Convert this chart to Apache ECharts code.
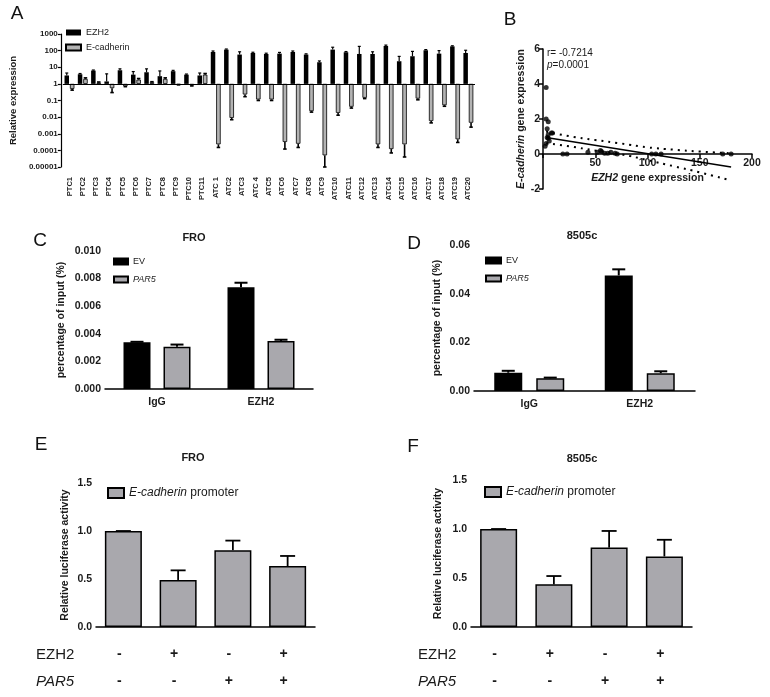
<!DOCTYPE html>
<html><head><meta charset="utf-8">
<script src="https://cdn.jsdelivr.net/npm/echarts@6/dist/echarts.min.js"></script>
<style>html,body{margin:0;padding:0;background:#fff}#c{width:770px;height:697px}</style>
</head><body><div id="c"></div>
<script>
// ---------- Panel A data ----------
const aCategories = ['PTC1','PTC2','PTC3','PTC4','PTC5','PTC6','PTC7','PTC8','PTC9','PTC10','PTC11',
  'ATC 1','ATC2','ATC3','ATC 4','ATC5','ATC6','ATC7','ATC8','ATC9','ATC10','ATC11','ATC12','ATC13','ATC14','ATC15','ATC16','ATC17','ATC18','ATC19','ATC20'];
const aEzh2 = [3.2,3.8,6.3,1.4,6.6,3.6,5,2.9,5.8,3.6,3.2,
  83,115,58,72,63,66,83,58,20,115,80,63,63,190,23,46,105,66,180,72];
const aEzh2Tip = [4.5,4.2,6.8,4,8,5.5,8,6,6.5,3.9,4.5,
  95,125,85,80,70,78,95,64,24,160,88,180,85,215,45,90,115,100,195,105];
const aEcad = [0.5,2,1.2,0.55,0.72,1.8,1.25,2,0.9,0.8,3.6,
  0.00023,0.009,0.23,0.115,0.115,0.00032,0.00025,0.023,0.00005,0.018,0.042,0.145,0.00023,0.00012,0.00023,0.13,0.0058,0.052,0.00046,0.0046];
const aEcadTip = [0.42,2.3,1.3,0.3,0.68,2.1,1.35,2.3,0.87,0.75,4.2,
  0.00015,0.007,0.17,0.1,0.1,0.00012,0.00015,0.02,0.00001,0.013,0.035,0.13,0.00015,0.00007,0.00004,0.11,0.0045,0.045,0.0003,0.0025];
const aTickLabels = ['0.00001','0.0001','0.001','0.01','0.1','1','10','100','1000'];

// ---------- Panel B data ----------
const bX = [3,3,5,4,5,8,6,3,2,5,9,4,19,23,43,52,55,56,59,62,65,69,71,104,108,113,172,180];
const bY = [3.8,2.0,1.85,1.45,1.1,1.2,0.75,0.6,0.45,0.9,1.2,0.95,0,0,0.1,0.1,0.2,0.15,0.05,0.05,0.1,0.05,0,0,0,0,0,0];
const bFitX = [3,180];
const bFitY = [0.94,-0.74];
const bBandX = [3,25,50,75,100,125,150,180];
const bBandUpper = [1.28,1.02,0.8,0.6,0.38,0.25,0.14,0.04];
const bBandLower = [0.62,0.44,0.2,-0.02,-0.35,-0.7,-1.05,-1.52];

// ---------- Panel C / D data ----------
const chipCategories = ['IgG','EZH2'];
const cEV = [0.00338,0.00737], cEVTip = [0.00342,0.0077];
const cPAR5 = [0.00307,0.00348], cPAR5Tip = [0.00322,0.00357];
const dEV = [0.0075,0.0475], dEVTip = [0.0083,0.050];
const dPAR5 = [0.0052,0.0073], dPAR5Tip = [0.0055,0.0081];

// ---------- Panel E / F data ----------
const lucConditions = ['control','EZH2','PAR5','EZH2+PAR5'];
const ezh2Signs = ['-','+','-','+'];
const par5Signs = ['-','-','+','+'];
const eLuc = [1.0,0.49,0.80,0.635], eLucTip = [1.0,0.59,0.90,0.74];
const fLuc = [1.0,0.435,0.81,0.72], fLucTip = [1.0,0.52,0.98,0.89];

const FF = "'Liberation Sans', Arial, Helvetica, sans-serif";
const TXT = '#1a1a1a';
const GRAY = '#a9a8ad';

function errRender(off, capW, lw){
  return function(params, api){
    const p = api.coord([api.value(0), api.value(1)]);
    const q = api.coord([api.value(0), api.value(2)]);
    const x = p[0] + off;
    return {type:'group', children:[
      {type:'line', shape:{x1:x,y1:p[1],x2:x,y2:q[1]}, style:{stroke:'#000',lineWidth:lw}},
      {type:'line', shape:{x1:x-capW/2,y1:q[1],x2:x+capW/2,y2:q[1]}, style:{stroke:'#000',lineWidth:lw}}
    ]};
  };
}
function errData(vals, tips, tf){
  tf = tf || (v=>v);
  return vals.map((v,i)=>[i, tf(v), tf(tips[i])]);
}
const lg = v => Math.log10(v);

const axBase = (grid) => ({gridIndex:grid, axisLine:{lineStyle:{color:'#000',width:1.5}}, axisTick:{lineStyle:{color:'#000',width:1.5},length:4},
  axisLabel:{color:TXT,fontWeight:'bold',fontSize:10.5,fontFamily:FF}, splitLine:{show:false}});

const yName = (name, gap, size) => ({name:name, nameLocation:'middle', nameGap:gap, nameRotate:90,
  nameTextStyle:{color:TXT,fontWeight:'bold',fontSize:size||10.5,fontFamily:FF, rich:{i:{fontStyle:'italic',fontWeight:'bold',fontSize:size||10.5,fontFamily:FF,color:TXT}}}});

function signAxis(grid, signs, margin){
  return {type:'category', gridIndex:grid, position:'bottom', data:lucConditions,
    axisLine:{show:false}, axisTick:{show:false}, splitLine:{show:false},
    axisLabel:{formatter:(v,i)=>signs[i], margin:margin, fontSize:14, fontWeight:'bold', color:TXT, fontFamily:FF, padding:[0,8,0,0]}};
}

const AW = 4.5, AG = 0.2, AOFF = AW*(1+AG)/2;
const CW = 27, CG = 13/27, COFF = CW*(1+CG)/2;
const DW = 28, DG = 0.5, DOFF = DW*(1+DG)/2;

const option = {
  animation:false,
  textStyle:{fontFamily:FF},
  grid:[
    {left:53, top:34, width:422, height:133},
    {left:543, top:49, width:209, height:140},
    {left:105, top:251, width:208, height:138},
    {left:474, top:245, width:221, height:146},
    {left:96, top:483, width:219, height:144},
    {left:471, top:480, width:221, height:147}
  ],
  xAxis:[
    {type:'category', gridIndex:0, data:aCategories, axisLine:{show:false}, axisTick:{show:false},
      axisLabel:{rotate:90, fontSize:7.5, fontWeight:'bold', color:'#222', margin:10, interval:0, fontFamily:FF}},
    Object.assign(axBase(1), {type:'value', min:0, max:200, interval:50, axisLine:{onZero:true,lineStyle:{color:'#000',width:1.5}},
      axisLabel:{color:TXT,fontWeight:'bold',fontSize:10.5,fontFamily:FF,margin:-31, formatter:v=> v===0?'':String(v)},
      name:'{i|EZH2} gene expression', nameLocation:'middle', nameGap:-16,
      nameTextStyle:{color:TXT,fontWeight:'bold',fontSize:10.5,fontFamily:FF, rich:{i:{fontStyle:'italic',fontWeight:'bold',fontSize:10.5,fontFamily:FF,color:TXT}}}}),
    Object.assign(axBase(2), {type:'category', data:chipCategories, axisTick:{alignWithLabel:true,length:4,lineStyle:{color:'#000',width:1.5}}}),
    Object.assign(axBase(3), {type:'category', data:chipCategories, axisTick:{alignWithLabel:true,length:4,lineStyle:{color:'#000',width:1.5}}}),
    Object.assign(axBase(4), {type:'category', data:lucConditions, axisTick:{show:false}, axisLabel:{show:false}}),
    signAxis(4, ezh2Signs, 20),
    signAxis(4, par5Signs, 47),
    Object.assign(axBase(5), {type:'category', data:lucConditions, axisTick:{show:false}, axisLabel:{show:false}}),
    signAxis(5, ezh2Signs, 20),
    signAxis(5, par5Signs, 47)
  ],
  yAxis:[
    Object.assign(axBase(0), {type:'value', min:-5, max:3, interval:1, offset:2,
      axisLine:{show:true,lineStyle:{color:'#000',width:1.2}}, axisTick:{show:true,length:3,lineStyle:{color:'#000',width:1.2}},
      axisLabel:{color:TXT,fontWeight:'bold',fontSize:8,fontFamily:FF,margin:3, formatter:v=>aTickLabels[Math.round(v)+5]}},
      yName('Relative expression', 32, 9.5)),
    Object.assign(axBase(1), {type:'value', min:-2, max:6, interval:2, axisLabel:{color:TXT,fontWeight:'bold',fontSize:10.5,fontFamily:FF,margin:3}},
      yName('{i|E-cadherin} gene expression', 12)),
    Object.assign(axBase(2), {type:'value', min:0, max:0.01, interval:0.002, axisLabel:{color:TXT,fontWeight:'bold',fontSize:10.5,fontFamily:FF,margin:4, formatter:v=>v.toFixed(3)}},
      yName('percentage of input (%)', 38)),
    Object.assign(axBase(3), {type:'value', min:0, max:0.06, interval:0.02, axisLabel:{color:TXT,fontWeight:'bold',fontSize:10.5,fontFamily:FF,margin:4, formatter:v=>v.toFixed(2)}},
      yName('percentage of input (%)', 31)),
    Object.assign(axBase(4), {type:'value', min:0, max:1.5, interval:0.5, axisLabel:{color:TXT,fontWeight:'bold',fontSize:10.5,fontFamily:FF,margin:4, formatter:v=>v.toFixed(1)}},
      yName('Relative luciferase activity', 25)),
    Object.assign(axBase(5), {type:'value', min:0, max:1.5, interval:0.5, axisLabel:{color:TXT,fontWeight:'bold',fontSize:10.5,fontFamily:FF,margin:4, formatter:v=>v.toFixed(1)}},
      yName('Relative luciferase activity', 27))
  ],
  legend:[
    {data:['EZH2','E-cadherin'], icon:'rect', orient:'vertical', left:60, top:23, itemWidth:15, itemHeight:6, itemGap:6,
      textStyle:{fontSize:9,color:TXT,fontFamily:FF}, selectedMode:false},
    {data:['EV','PAR5'], icon:'rect', orient:'vertical', left:108, top:252, itemWidth:14, itemHeight:6, itemGap:9, selectedMode:false,
      formatter:n=> n==='PAR5'?'{i|PAR5}':n, textStyle:{fontSize:9,color:TXT,fontFamily:FF,rich:{i:{fontStyle:'italic',fontSize:9,color:TXT}}}},
    {data:['EV ','PAR5 '], icon:'rect', orient:'vertical', left:480, top:251, itemWidth:15, itemHeight:6, itemGap:9, selectedMode:false,
      formatter:n=> n==='PAR5 '?'{i|PAR5}':'EV', textStyle:{fontSize:9,color:TXT,fontFamily:FF,rich:{i:{fontStyle:'italic',fontSize:9,color:TXT}}}},
    {data:['E-cadherin promoter'], icon:'rect', left:102, top:482, itemWidth:16, itemHeight:10, selectedMode:false,
      formatter:()=>'{i|E-cadherin} promoter', textStyle:{fontSize:12,color:TXT,fontFamily:FF,rich:{i:{fontStyle:'italic',fontSize:12,color:TXT}}}},
    {data:['E-cadherin promoter '], icon:'rect', left:479, top:481, itemWidth:16, itemHeight:10, selectedMode:false,
      formatter:()=>'{i|E-cadherin} promoter', textStyle:{fontSize:12,color:TXT,fontFamily:FF,rich:{i:{fontStyle:'italic',fontSize:12,color:TXT}}}}
  ],
  series:[
    // Panel A
    {name:'EZH2', type:'bar', xAxisIndex:0, yAxisIndex:0, data:aEzh2.map(lg), barWidth:AW, barGap:(AG*100)+'%',
      itemStyle:{color:'#000'},
      markLine:{silent:true, symbol:'none', data:[{yAxis:0}], label:{show:false}, lineStyle:{color:'#000',type:'solid',width:1.2}}},
    {name:'E-cadherin', type:'bar', xAxisIndex:0, yAxisIndex:0, data:aEcad.map(lg), barWidth:AW,
      itemStyle:{color:'#b3b3b3', borderColor:'#000', borderWidth:0.8}},
    {type:'custom', xAxisIndex:0, yAxisIndex:0, z:5, renderItem:errRender(-AOFF,3,1.2), encode:{x:0,y:[1,2]}, data:errData(aEzh2,aEzh2Tip,lg)},
    {type:'custom', xAxisIndex:0, yAxisIndex:0, z:5, renderItem:errRender(AOFF,3.5,1.6), encode:{x:0,y:[1,2]}, data:errData(aEcad,aEcadTip,lg)},
    // Panel B
    {type:'scatter', xAxisIndex:1, yAxisIndex:1, data:bX.map((x,i)=>[x,bY[i]]), symbolSize:5, itemStyle:{color:'#000'}},
    {type:'line', xAxisIndex:1, yAxisIndex:1, data:bFitX.map((x,i)=>[x,bFitY[i]]), showSymbol:false, lineStyle:{color:'#000',width:1.5}},
    {type:'line', xAxisIndex:1, yAxisIndex:1, data:bBandX.map((x,i)=>[x,bBandUpper[i]]), showSymbol:false, smooth:true, lineStyle:{color:'#000',width:2,type:[2,5]}},
    {type:'line', xAxisIndex:1, yAxisIndex:1, data:bBandX.map((x,i)=>[x,bBandLower[i]]), showSymbol:false, smooth:true, lineStyle:{color:'#000',width:2,type:[2,5]}},
    // Panel C
    {name:'EV', type:'bar', xAxisIndex:2, yAxisIndex:2, data:cEV, barWidth:CW, barGap:(CG*100)+'%', itemStyle:{color:'#000',borderColor:'#000',borderWidth:1.5}},
    {name:'PAR5', type:'bar', xAxisIndex:2, yAxisIndex:2, data:cPAR5, barWidth:CW, itemStyle:{color:GRAY,borderColor:'#000',borderWidth:1.5}},
    {type:'custom', xAxisIndex:2, yAxisIndex:2, z:5, renderItem:errRender(-COFF,13,2), encode:{x:0,y:[1,2]}, data:errData(cEV,cEVTip)},
    {type:'custom', xAxisIndex:2, yAxisIndex:2, z:5, renderItem:errRender(COFF,13,2), encode:{x:0,y:[1,2]}, data:errData(cPAR5,cPAR5Tip)},
    // Panel D
    {name:'EV ', type:'bar', xAxisIndex:3, yAxisIndex:3, data:dEV, barWidth:DW, barGap:(DG*100)+'%', itemStyle:{color:'#000',borderColor:'#000',borderWidth:1.5}},
    {name:'PAR5 ', type:'bar', xAxisIndex:3, yAxisIndex:3, data:dPAR5, barWidth:DW, itemStyle:{color:GRAY,borderColor:'#000',borderWidth:1.5}},
    {type:'custom', xAxisIndex:3, yAxisIndex:3, z:5, renderItem:errRender(-DOFF,13,2), encode:{x:0,y:[1,2]}, data:errData(dEV,dEVTip)},
    {type:'custom', xAxisIndex:3, yAxisIndex:3, z:5, renderItem:errRender(DOFF,13,2), encode:{x:0,y:[1,2]}, data:errData(dPAR5,dPAR5Tip)},
    // Panel E
    {name:'E-cadherin promoter', type:'bar', xAxisIndex:4, yAxisIndex:4, data:eLuc, barWidth:37, itemStyle:{color:GRAY,borderColor:'#000',borderWidth:1.5}},
    {type:'custom', xAxisIndex:4, yAxisIndex:4, z:5, renderItem:errRender(0,15,1.8), encode:{x:0,y:[1,2]}, data:errData(eLuc,eLucTip)},
    // Panel F
    {name:'E-cadherin promoter ', type:'bar', xAxisIndex:7, yAxisIndex:5, data:fLuc, barWidth:37, itemStyle:{color:GRAY,borderColor:'#000',borderWidth:1.5}},
    {type:'custom', xAxisIndex:7, yAxisIndex:5, z:5, renderItem:errRender(0,15,1.8), encode:{x:0,y:[1,2]}, data:errData(fLuc,fLucTip)}
  ],
  graphic:[
    {type:'text', x:17, y:14, style:{text:'A', fontSize:19, fontFamily:FF, fill:'#111', align:'center', verticalAlign:'middle'}},
    {type:'text', x:510, y:20, style:{text:'B', fontSize:19, fontFamily:FF, fill:'#111', align:'center', verticalAlign:'middle'}},
    {type:'text', x:40, y:241, style:{text:'C', fontSize:19, fontFamily:FF, fill:'#111', align:'center', verticalAlign:'middle'}},
    {type:'text', x:414, y:244, style:{text:'D', fontSize:19, fontFamily:FF, fill:'#111', align:'center', verticalAlign:'middle'}},
    {type:'text', x:41, y:445, style:{text:'E', fontSize:19, fontFamily:FF, fill:'#111', align:'center', verticalAlign:'middle'}},
    {type:'text', x:413, y:447, style:{text:'F', fontSize:19, fontFamily:FF, fill:'#111', align:'center', verticalAlign:'middle'}},
    {type:'text', x:194, y:238, style:{text:'FRO', fontSize:11, fontWeight:'bold', fontFamily:FF, fill:TXT, align:'center', verticalAlign:'middle'}},
    {type:'text', x:582, y:236, style:{text:'8505c', fontSize:11, fontWeight:'bold', fontFamily:FF, fill:TXT, align:'center', verticalAlign:'middle'}},
    {type:'text', x:193, y:458, style:{text:'FRO', fontSize:11, fontWeight:'bold', fontFamily:FF, fill:TXT, align:'center', verticalAlign:'middle'}},
    {type:'text', x:582, y:459, style:{text:'8505c', fontSize:11, fontWeight:'bold', fontFamily:FF, fill:TXT, align:'center', verticalAlign:'middle'}},
    {type:'text', x:547, y:53, style:{text:'r= -0.7214', fontSize:10, fontFamily:FF, fill:TXT, align:'left', verticalAlign:'middle'}},
    {type:'text', x:547, y:65, style:{text:'{i|p}=0.0001', fontSize:10, fontFamily:FF, fill:TXT, align:'left', verticalAlign:'middle', rich:{i:{fontStyle:'italic',fontSize:10,fontFamily:FF,fill:TXT}}}},
    {type:'text', x:36, y:655, style:{text:'EZH2', fontSize:15, fontFamily:FF, fill:TXT, align:'left', verticalAlign:'middle'}},
    {type:'text', x:36, y:682, style:{text:'PAR5', fontSize:15, fontStyle:'italic', fontFamily:FF, fill:TXT, align:'left', verticalAlign:'middle'}},
    {type:'text', x:418, y:655, style:{text:'EZH2', fontSize:15, fontFamily:FF, fill:TXT, align:'left', verticalAlign:'middle'}},
    {type:'text', x:418, y:682, style:{text:'PAR5', fontSize:15, fontStyle:'italic', fontFamily:FF, fill:TXT, align:'left', verticalAlign:'middle'}}
  ]
};
const chart = echarts.init(document.getElementById('c'), null, {renderer:'canvas', width:770, height:697});
chart.setOption(option);
</script></body></html>
